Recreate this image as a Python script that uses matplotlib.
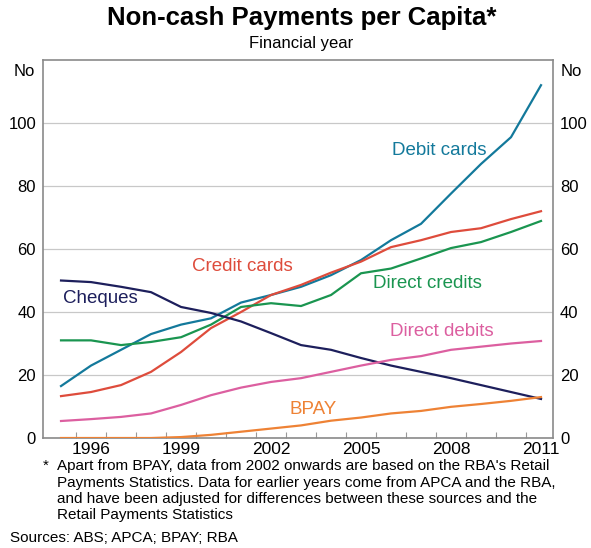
import matplotlib.pyplot as plt

plt.rcParams['font.family'] = ['Liberation Sans', 'DejaVu Sans']

years = list(range(1995, 2012))
debit_cards = [16.5, 23, 28, 33, 36, 38, 43, 45.4, 48, 51.7, 56.5, 62.8, 68, 77.6, 87, 95.5, 112]
credit_cards = [13.3, 14.6, 16.8, 21, 27.3, 34.9, 40, 45.4, 48.6, 52.5, 56, 60.6, 62.8, 65.4, 66.6, 69.5, 72]
direct_credits = [31, 31, 29.5, 30.5, 32, 36, 41.6, 42.8, 41.9, 45.4, 52.3, 53.8, 57, 60.3, 62.2, 65.4, 68.9]
cheques = [50, 49.5, 48, 46.3, 41.6, 39.7, 37, 33.3, 29.5, 28, 25.4, 23, 21, 19, 16.8, 14.6, 12.4]
direct_debits = [5.4, 6, 6.7, 7.8, 10.5, 13.6, 16, 17.8, 19, 21, 23, 24.8, 26, 28, 29, 30, 30.8]
bpay = [0, 0, 0, 0, 0.3, 1, 2, 3, 4, 5.5, 6.5, 7.8, 8.6, 9.9, 10.8, 11.8, 13]

series = [
    ("Debit cards", debit_cards, "#13799b", 2007.6, 91.4),
    ("Credit cards", credit_cards, "#de4c3c", 2001.05, 54.3),
    ("Direct credits", direct_credits, "#1a9550", 2007.2, 49.2),
    ("Cheques", cheques, "#1d1f5c", 1996.3, 44.4),
    ("Direct debits", direct_debits, "#dc5fa0", 2007.7, 33.9),
    ("BPAY", bpay, "#ee8235", 2003.4, 8.9),
]

x_labels = [1996, 1999, 2002, 2005, 2008, 2011]

fig = plt.figure(figsize=(5.91, 5.48), dpi=100)
ax = fig.add_axes([0.0728, 0.2007, 0.8629, 0.6898])

for name, vals, col, lx, ly in series:
    ax.plot(years, vals, color=col, lw=1.6, zorder=3)
    ax.text(lx, ly, name, color=col, fontsize=13.5, ha='center', va='center', zorder=4)

ax.set_xlim(1994.4, 2011.4)
ax.set_ylim(0, 120)
ax.set_yticks([0, 20, 40, 60, 80, 100])
ax.grid(axis='y', color='#c8c8c8', lw=0.9, zorder=1)
ax.tick_params(axis='y', length=0, labelsize=12, pad=5, right=True, labelright=True)
ax.text(-0.015, 116.5 / 120, "No", transform=ax.transAxes, ha='right', va='center', fontsize=12)
ax.text(1.015, 116.5 / 120, "No", transform=ax.transAxes, ha='left', va='center', fontsize=12)

ax.set_xticks([y + 0.5 for y in years[:-1]])
ax.set_xticklabels([])
ax.tick_params(axis='x', direction='in', length=4, color='#999999', width=0.8)
ax.set_xticks(x_labels, minor=True)
ax.set_xticklabels([str(y) for y in x_labels], minor=True, fontsize=12.5)
ax.tick_params(axis='x', which='minor', length=0, pad=3)

for s in ax.spines.values():
    s.set_color('#8a8a8a')
    s.set_linewidth(1.2)

fig.text(0.51, 0.967, "Non-cash Payments per Capita*", ha='center', va='center',
         fontsize=18.5, fontweight='bold')
fig.text(0.51, 0.92, "Financial year", ha='center', va='center', fontsize=12)

note = ("Apart from BPAY, data from 2002 onwards are based on the RBA's Retail\n"
        "Payments Statistics. Data for earlier years come from APCA and the RBA,\n"
        "and have been adjusted for differences between these sources and the\n"
        "Retail Payments Statistics")
fig.text(0.072, 0.162, "*", ha='left', va='top', fontsize=11)
fig.text(0.096, 0.162, note, ha='left', va='top', fontsize=11, linespacing=1.22)
fig.text(0.017, 0.018, "Sources: ABS; APCA; BPAY; RBA", ha='left', va='center', fontsize=11)

fig.savefig("out.png", dpi=100)
